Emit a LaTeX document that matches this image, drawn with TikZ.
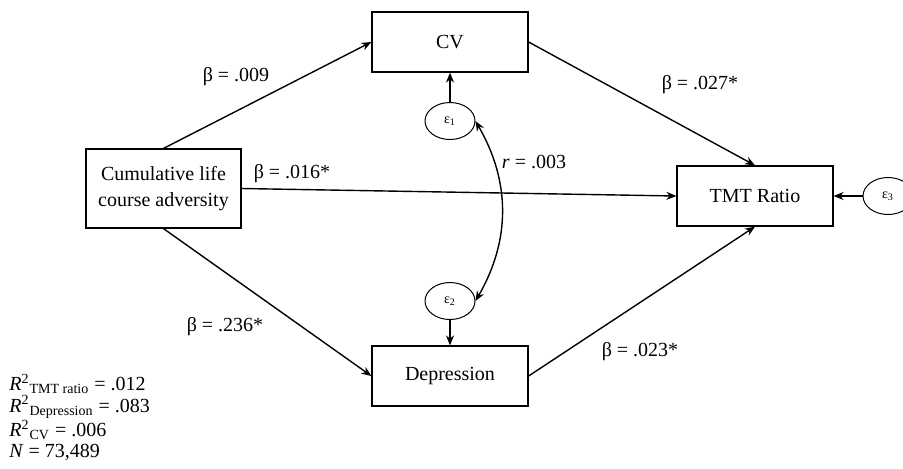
\documentclass[tikz,border=0pt]{standalone}
\usepackage{fontspec}
\setmainfont{Liberation Serif}
\usetikzlibrary{shapes.geometric,arrows.meta}

\begin{document}
\begin{tikzpicture}[x=0.5pt, y=-0.5pt,
		font=\fontsize{10}{13}\selectfont,
		var/.style={draw, line width=0.6pt, minimum width=78pt, minimum height=30pt, inner sep=2pt, align=center},
		err/.style={draw, ellipse, line width=0.5pt, minimum width=25pt, minimum height=18.5pt, inner sep=0pt, font=\fontsize{7}{8}\selectfont},
		path/.style={-{Stealth[length=5pt, width=4pt]}, line width=0.7pt},
		coef/.style={inner sep=0pt}]
		
		\useasboundingbox (0,0) rectangle (903,468);
		
		% observed variables
		\node[var, minimum width=77.5pt, minimum height=39.5pt] (cum) at (163.5,188.5) {Cumulative life\\course adversity};
		\node[var] (cv) at (450,42) {CV};
		\node[var] (dep) at (450,376) {Depression};
		\node[var] (tmt) at (755,196) {TMT Ratio};
		
		% residuals
		\node[err] (e1) at (450,121) {ε\textsubscript{1}};
		\node[err] (e2) at (450,301) {ε\textsubscript{2}};
		\node[err] (e3) at (888,196) {ε\textsubscript{3}};
		
		% paths
		\draw[path] (cum.north) -- (cv.west);
		\draw[path] (cum.south) -- (dep.west);
		\draw[path] (cum.east) -- (tmt.west);
		\draw[path] (cv.east) -- (tmt.north);
		\draw[path] (dep.east) -- (tmt.south);
		
		\draw[path] (e1) -- (cv);
		\draw[path] (e2) -- (dep);
		\draw[path] (e3) -- (tmt);
		\draw[path, {Stealth[length=5pt, width=4pt]}-{Stealth[length=5pt, width=4pt]}] (e1.east) to[out=-60, in=60] (e2.east);
		
		% coefficients
		\node[coef] (b009) at (236,77) {β = .009};
		\node[coef] (b016) at (292,174) {β = .016*};
		\node[coef] (b027) at (700,85) {β = .027*};
		\node[coef] (b236) at (225,327) {β = .236*};
		\node[coef] (b023) at (640,352) {β = .023*};
		\node[coef] (r003) at (534,162) {\textit{r} = .003};
		
		% fit
		\node[coef, anchor=north west, align=left, font=\fontsize{10}{10.6}\selectfont] (fit) at (9,374)
		{\textit{R}\textsuperscript{2}\textsubscript{TMT ratio} = .012\\
			\textit{R}\textsuperscript{2}\textsubscript{Depression} = .083\\
			\textit{R}\textsuperscript{2}\textsubscript{CV} = .006\\
			\textit{N} = 73,489};
		
	\end{tikzpicture}
\end{document}
